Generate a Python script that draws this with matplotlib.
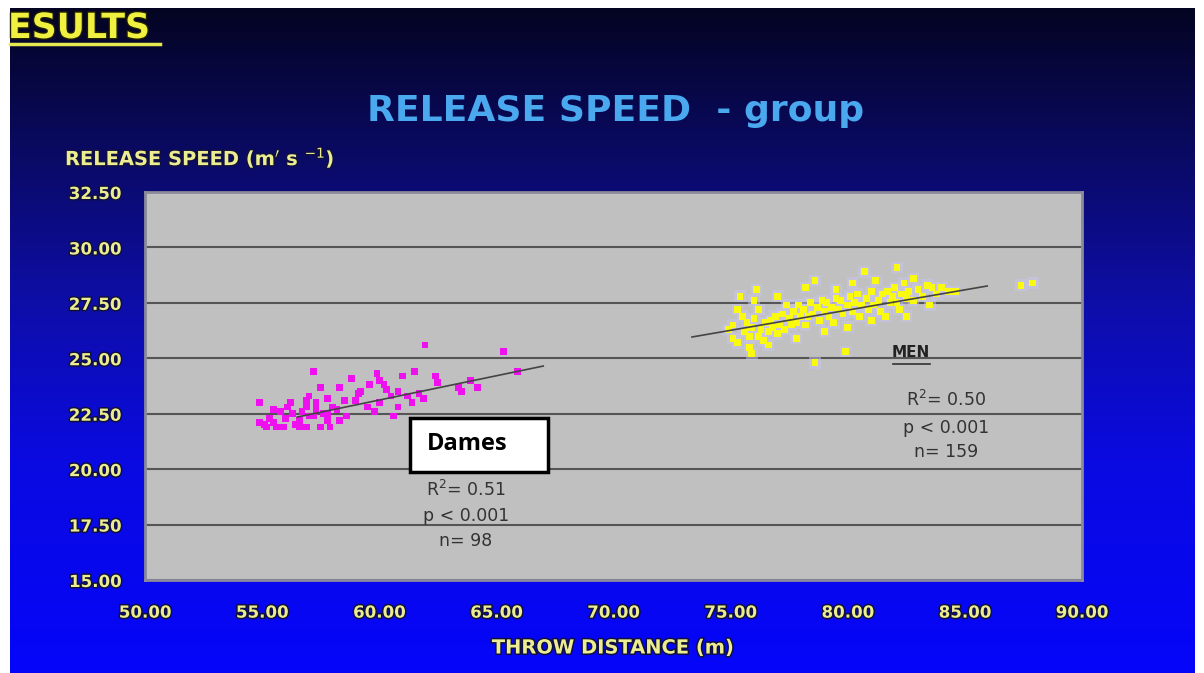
import matplotlib
matplotlib.use("Agg")
import matplotlib.pyplot as plt
import matplotlib.patheffects as pe
from matplotlib.patches import Rectangle
import numpy as np

plt.rcParams['font.family'] = ['DejaVu Sans']

# women ("Dames") - throw distance (m) / release speed (m/s)
dames_x = [54.9, 54.9, 55.1, 55.2, 55.3, 55.5, 55.5, 55.6, 55.8, 55.9, 56.0, 56.1, 56.3, 56.4,
           56.6, 56.6, 56.7, 56.9, 56.9, 56.9, 57.0, 57.2, 57.2, 57.3, 57.3, 57.5, 57.5, 57.6,
           57.8, 57.8, 57.8, 57.9, 58.0, 58.2, 58.3, 58.3, 58.5, 58.8, 59.0, 59.1, 59.2, 59.5,
           59.6, 59.9, 60.0, 60.0, 60.3, 60.5, 60.6, 60.8, 60.8, 61.0, 61.2, 61.5, 61.7, 61.9,
           61.95, 62.4, 62.5, 63.4, 63.5, 63.9, 64.2, 65.3, 65.9, 56.2, 57.0, 58.6, 59.8, 60.2,
           61.4]
dames_y = [22.1, 23.0, 22.0, 21.9, 22.3, 22.7, 22.1, 21.9, 22.6, 21.9, 22.3, 22.8, 22.5, 22.0,
           21.9, 22.2, 22.6, 23.1, 22.8, 21.9, 22.4, 22.4, 24.4, 22.7, 23.0, 23.7, 21.9, 22.5,
           23.2, 22.5, 22.2, 21.9, 22.8, 22.7, 23.7, 22.2, 23.1, 24.1, 23.1, 23.4, 23.5, 22.8,
           23.8, 24.3, 24.0, 23.0, 23.6, 23.3, 22.4, 23.5, 22.8, 24.2, 23.3, 24.4, 23.4, 23.2,
           25.6, 24.2, 23.9, 23.7, 23.5, 24.0, 23.7, 25.3, 24.4, 23.0, 23.3, 22.4, 22.6, 23.8,
           23.0]
dames_trend_x = [56.5, 67.0]
dames_trend_y = [22.35, 24.65]

# men
men_x = [74.9, 75.1, 75.1, 75.3, 75.4, 75.5, 75.6, 75.7, 75.8, 75.8, 75.9, 76.0, 76.1, 76.2,
         76.2, 76.3, 76.4, 76.5, 76.6, 76.7, 76.8, 76.9, 77.0, 77.1, 77.2, 77.3, 77.4, 77.5,
         77.6, 77.7, 77.8, 77.9, 78.0, 78.1, 78.2, 78.3, 78.4, 78.5, 78.6, 78.6, 78.7, 78.8,
         78.9, 79.0, 79.1, 79.2, 79.3, 79.4, 79.5, 79.6, 79.7, 79.8, 79.9, 80.0, 80.1, 80.2,
         80.3, 80.4, 80.5, 80.6, 80.7, 80.8, 80.9, 81.0, 81.1, 81.2, 81.3, 81.4, 81.5, 81.6,
         81.7, 81.8, 81.9, 82.0, 82.1, 82.1, 82.2, 82.3, 82.4, 82.5, 82.6, 82.8, 82.8, 83.0,
         83.2, 83.4, 83.6, 83.8, 84.0, 84.3, 84.6, 87.4, 87.9, 76.0, 77.0, 78.2, 79.5, 80.2,
         75.3, 76.6, 77.8, 75.9, 79.0, 80.0, 81.0, 82.5, 83.5]
men_y = [26.3, 26.5, 25.9, 25.7, 27.8, 26.9, 26.2, 26.6, 25.5, 26.0, 26.4, 26.8, 28.1, 26.0,
         27.2, 26.3, 25.8, 26.6, 26.2, 26.7, 26.4, 26.9, 26.1, 26.5, 27.0, 26.3, 27.4, 26.8,
         26.5, 27.1, 26.6, 27.4, 26.9, 27.2, 26.5, 26.9, 27.5, 27.0, 28.5, 24.8, 27.3, 26.7,
         27.6, 27.1, 27.5, 26.9, 27.3, 26.6, 27.7, 27.2, 27.6, 27.0, 25.3, 27.4, 27.8, 27.1,
         27.5, 27.9, 26.9, 27.4, 28.9, 27.7, 27.2, 28.0, 27.4, 28.5, 27.6, 27.1, 27.9, 26.9,
         28.0, 27.5, 27.8, 28.2, 29.1, 27.5, 27.2, 27.9, 28.4, 27.7, 28.0, 28.6, 27.6, 28.1,
         27.8, 28.3, 28.2, 27.9, 28.2, 28.0, 28.0, 28.3, 28.4, 27.6, 27.8, 28.2, 28.1, 28.4,
         27.2, 25.6, 25.9, 25.2, 26.2, 26.4, 26.7, 26.9, 27.4]
men_trend_x = [73.35, 85.95]
men_trend_y = [25.96, 28.26]

x_ticks = [50, 55, 60, 65, 70, 75, 80, 85, 90]
y_ticks = [15.0, 17.5, 20.0, 22.5, 25.0, 27.5, 30.0, 32.5]

W, H = 1204, 673
fig = plt.figure(figsize=(W / 100, H / 100), dpi=100, facecolor='white')

# slide background: blue vertical gradient
bg = fig.add_axes([0, 0, 1, 1])
bg.set_xlim(0, W)
bg.set_ylim(H, 0)
bg.axis('off')
stops_y = [0.0, 0.22, 0.45, 0.68, 1.0]
stops_c = np.array([[4, 4, 34], [10, 10, 100], [14, 14, 170], [10, 10, 225], [5, 5, 250]]) / 255
t = np.linspace(0, 1, 300)
grad = np.stack([np.interp(t, stops_y, stops_c[:, k]) for k in range(3)], axis=1)
bg.imshow(grad[:, None, :], extent=[10, 1195, 673, 8], aspect='auto', interpolation='bilinear')

yel = '#ECEC90'
outline = [pe.withStroke(linewidth=2.2, foreground='#101040')]
bg.text(8, 28, 'ESULTS', color='#F0F040', fontsize=25, fontweight='bold', va='center', ha='left',
        path_effects=[pe.withStroke(linewidth=2, foreground='#202000')])
bg.plot([10, 160], [44, 44], color='#E8E850', lw=2.5)
bg.text(616, 111, 'RELEASE SPEED  - group', color='#4AA8EE', fontsize=26, fontweight='bold',
        ha='center', va='center')
bg.text(65, 158, r'RELEASE SPEED (m$^{\prime}$ s $^{-1}$)', color=yel, fontsize=14,
        fontweight='bold', ha='left', va='center', path_effects=outline)
bg.text(613, 648, 'THROW DISTANCE (m)', color=yel, fontsize=14, fontweight='bold',
        ha='center', va='center', path_effects=outline)

ax = fig.add_axes([145 / W, 1 - 580 / H, (1082 - 145) / W, (580 - 192) / H])
ax.set_facecolor('#C0C0C0')
ax.set_xlim(50, 90)
ax.set_ylim(15, 32.5)
ax.set_xticks(x_ticks)
ax.set_yticks(y_ticks)
ax.set_xticklabels([f'{v:.2f}' for v in x_ticks])
ax.set_yticklabels([f'{v:.2f}' for v in y_ticks])
ax.tick_params(length=0, colors=yel, labelsize=12)
ax.tick_params(axis='x', pad=17)
ax.tick_params(axis='y', pad=17)
for lab in ax.get_xticklabels() + ax.get_yticklabels():
    lab.set_fontweight('bold')
    lab.set_path_effects(outline)
ax.grid(axis='y', color='#555555', lw=1.5)
ax.set_axisbelow(True)
for s in ax.spines.values():
    s.set_color('#8A8A9A')
    s.set_linewidth(2)

ax.scatter(men_x, men_y, marker='s', s=70, color='#C8C4EC', alpha=0.5, edgecolors='none', zorder=2)
ax.scatter(dames_x, dames_y, marker='s', s=24, color='#EE10EE', edgecolors='none', zorder=3)
ax.scatter(men_x, men_y, marker='s', s=24, color='#FAFA10', edgecolors='none', zorder=3)
ax.plot(dames_trend_x, dames_trend_y, color='#444444', lw=1.2, zorder=4)
ax.plot(men_trend_x, men_trend_y, color='#444444', lw=1.2, zorder=4)

# Dames label box
ax.add_patch(Rectangle((61.31, 19.87), 5.89, 2.44, facecolor='white', edgecolor='black',
                       lw=2.5, zorder=5))
ax.text(62.05, 21.15, 'Dames', family=['Open Sans', 'DejaVu Sans'], fontweight='bold', fontsize=17,
        ha='left', va='center', color='black', zorder=6)
for yy, s in zip([19.06, 17.89, 16.76], [r'R$^2$= 0.51', 'p < 0.001', 'n= 98']):
    ax.text(63.7, yy, s, color='#333333', fontsize=12.5, ha='center', va='center', zorder=5)

ax.text(82.7, 25.25, 'MEN', color='#222222', fontsize=11, fontweight='bold', ha='center',
        va='center', zorder=5)
ax.plot([81.92, 83.5], [24.72, 24.72], color='#333333', lw=1.2, zorder=5)
for yy, s in zip([23.12, 21.86, 20.77], [r'R$^2$= 0.50', 'p < 0.001', 'n= 159']):
    ax.text(84.2, yy, s, color='#333333', fontsize=12.5, ha='center', va='center', zorder=5)

fig.savefig('out.png', dpi=100, facecolor='white')
